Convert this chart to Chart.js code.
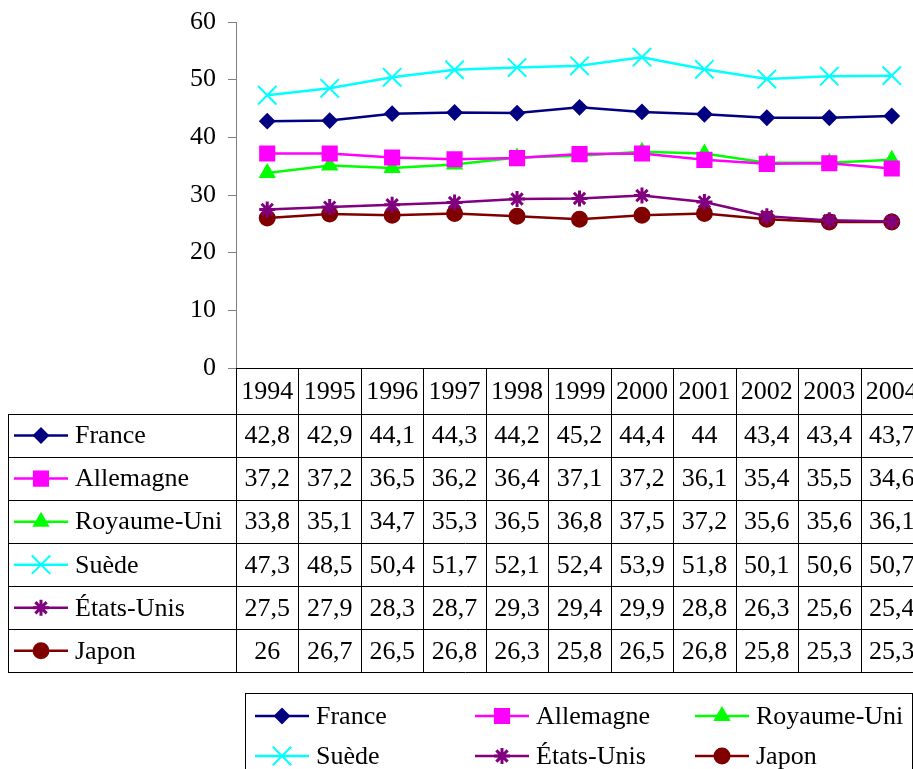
<!DOCTYPE html>
<html>
<head>
<meta charset="utf-8">
<script src="https://cdn.jsdelivr.net/npm/chart.js@4.4.1/dist/chart.umd.min.js"></script>
<style>
  body { margin: 0; background: #fff; overflow: hidden; }
  #wrap { width: 940px; height: 769px; }
</style>
</head>
<body>
<div id="wrap"><canvas id="chart" width="940" height="769"></canvas></div>
<script>
const years = ['1994', '1995', '1996', '1997', '1998', '1999', '2000', '2001', '2002', '2003', '2004'];
const france = [42.8, 42.9, 44.1, 44.3, 44.2, 45.2, 44.4, 44, 43.4, 43.4, 43.7];
const allemagne = [37.2, 37.2, 36.5, 36.2, 36.4, 37.1, 37.2, 36.1, 35.4, 35.5, 34.6];
const royaumeUni = [33.8, 35.1, 34.7, 35.3, 36.5, 36.8, 37.5, 37.2, 35.6, 35.6, 36.1];
const suede = [47.3, 48.5, 50.4, 51.7, 52.1, 52.4, 53.9, 51.8, 50.1, 50.6, 50.7];
const etatsUnis = [27.5, 27.9, 28.3, 28.7, 29.3, 29.4, 29.9, 28.8, 26.3, 25.6, 25.4];
const japon = [26, 26.7, 26.5, 26.8, 26.3, 25.8, 26.5, 26.8, 25.8, 25.3, 25.3];
const yTicks = [0, 10, 20, 30, 40, 50, 60];

const FONT = "'Liberation Serif', 'Times New Roman', serif";
const FONT_SIZE = 26;

function serie(label, data, color, style, radius, pw) {
    return {
        label: label,
        data: data,
        borderColor: color,
        backgroundColor: color,
        pointBackgroundColor: color,
        pointBorderColor: color,
        pointStyle: style,
        pointRadius: radius,
        pointBorderWidth: pw,
        borderWidth: 2.5,
        tension: 0
    };
}

const series = [
    serie('France', france, '#000080', 'rectRot', 7, 2),
    serie('Allemagne', allemagne, '#FF00FF', 'rect', 10, 2),
    serie('Royaume-Uni', royaumeUni, '#00FF00', 'triangle', 8, 2),
    serie('Suède', suede, '#00FFFF', 'crossRot', 13, 2),
    serie('États-Unis', etatsUnis, '#800080', 'star', 8, 3),
    serie('Japon', japon, '#800000', 'circle', 7.5, 2)
];

function fmt(v) {
    return String(v).replace('.', ',');
}

function marker(ctx, ds, x, y) {
    ctx.save();
    ctx.strokeStyle = ds.borderColor;
    ctx.lineWidth = ds.borderWidth;
    ctx.beginPath();
    ctx.moveTo(x - 27, y);
    ctx.lineTo(x + 27, y);
    ctx.stroke();
    ctx.fillStyle = ds.backgroundColor;
    ctx.lineWidth = ds.pointBorderWidth;
    Chart.helpers.drawPoint(ctx, {
        pointStyle: ds.pointStyle,
        radius: ds.pointRadius,
        borderWidth: ds.pointBorderWidth,
        rotation: 0
    }, x, y);
    ctx.restore();
}

// table under the plot + legend box
const tablePlugin = {
    id: 'dataTable',
    afterDraw(chart) {
        const ctx = chart.ctx;
        const area = chart.chartArea;
        const xs = chart.scales.x;
        const colW = (area.right - area.left) / years.length;
        const headTop = area.bottom;
        const headBottom = 414;
        const rowH = 43.05;
        const tableBottom = headBottom + rowH * series.length;

        ctx.save();
        ctx.font = FONT_SIZE + 'px ' + FONT;
        ctx.fillStyle = '#000';
        ctx.textBaseline = 'middle';
        ctx.textAlign = 'center';

        // grid lines
        ctx.strokeStyle = '#000';
        ctx.lineWidth = 1;
        ctx.beginPath();
        for (let i = 0; i <= years.length; i++) {
            const x = Math.round(area.left + i * colW) + 0.5;
            ctx.moveTo(x, headTop);
            ctx.lineTo(x, tableBottom);
        }
        for (let r = 0; r <= series.length; r++) {
            const y = Math.round(headBottom + r * rowH) + 0.5;
            ctx.moveTo(8, y);
            ctx.lineTo(area.right, y);
        }
        ctx.moveTo(8.5, headBottom);
        ctx.lineTo(8.5, tableBottom);
        ctx.stroke();

        // years
        years.forEach((yr, i) => {
            ctx.fillText(yr, xs.getPixelForValue(i), (headTop + headBottom) / 2 + 1);
        });

        // rows
        series.forEach((ds, r) => {
            const cy = headBottom + rowH * (r + 0.5) + 1;
            ds.data.forEach((v, i) => {
                ctx.textAlign = 'center';
                ctx.fillText(fmt(v), xs.getPixelForValue(i), cy);
            });
            marker(ctx, ds, 41, cy - 1);
            ctx.textAlign = 'left';
            ctx.fillStyle = '#000';
            ctx.fillText(ds.label, 75, cy);
        });

        // legend box
        ctx.strokeStyle = '#000';
        ctx.lineWidth = 1;
        ctx.strokeRect(245.5, 693.5, 667, 100);
        const cols = [282, 502, 722];
        const rows = [716, 756];
        series.forEach((ds, k) => {
            const x = cols[k % 3];
            const y = rows[Math.floor(k / 3)];
            marker(ctx, ds, x, y);
            ctx.textAlign = 'left';
            ctx.fillStyle = '#000';
            ctx.fillText(ds.label, x + 34, y + 1);
        });
        ctx.restore();
    }
};

new Chart(document.getElementById('chart'), {
    type: 'line',
    data: { labels: years, datasets: series },
    options: {
        responsive: false,
        animation: false,
        devicePixelRatio: 1,
        layout: { padding: { left: 0, top: 22, right: 17, bottom: 401 } },
        plugins: { legend: { display: false }, tooltip: { enabled: false } },
        scales: {
            x: {
                offset: true,
                grid: { display: false },
                ticks: { display: false },
                border: { display: true, color: '#000', width: 1 },
                afterFit(scale) { scale.height = 0; scale.paddingLeft = 0; scale.paddingRight = 0; }
            },
            y: {
                min: 0,
                max: 60,
                afterBuildTicks(scale) { scale.ticks = yTicks.map(v => ({ value: v })); },
                grid: { drawOnChartArea: false, drawTicks: true, tickLength: 8, color: '#808080' },
                border: { display: true, color: '#808080', width: 1 },
                ticks: {
                    padding: 12,
                    color: '#000',
                    font: { family: FONT, size: FONT_SIZE }
                },
                afterFit(scale) { scale.width = 236; scale.paddingTop = 0; scale.paddingBottom = 0; }
            }
        }
    },
    plugins: [tablePlugin]
});
</script>
</body>
</html>
